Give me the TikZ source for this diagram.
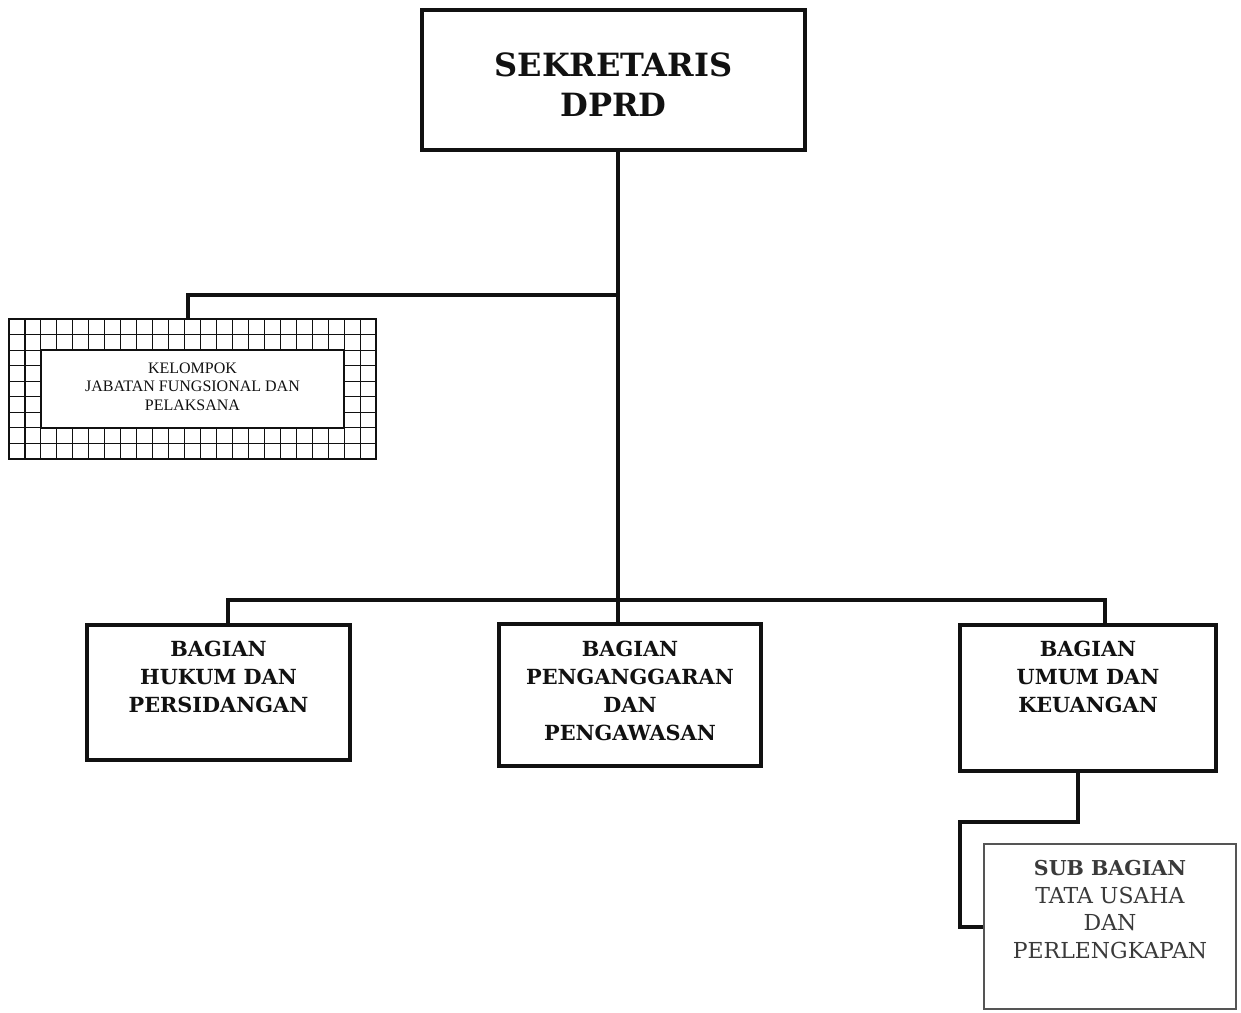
\documentclass[tikz,border=0pt]{standalone}
\usepackage{fontspec}
\setmainfont{DejaVu Serif}
\newfontfamily\timesfont{Liberation Serif}
\usetikzlibrary{positioning}
\definecolor{ink}{HTML}{111111}
\definecolor{greyline}{HTML}{555555}
\definecolor{greytext}{HTML}{3A3A3A}
\tikzset{
    unitbox/.style={draw=ink,line width=3.5pt,fill=white,inner sep=0pt},
    unittext/.style={anchor=north,inner sep=0pt,align=center,text=ink,
      font=\bfseries\fontsize{20.8}{28}\selectfont},
    headtext/.style={unittext,font=\bfseries\fontsize{32}{40}\selectfont},
    gridbox/.style={draw=ink,line width=1.6pt,fill=white,inner sep=0pt},
    gridline/.style={draw=ink,line width=1.1pt},
    kelompoktext/.style={anchor=north,inner sep=0pt,align=center,text=ink,
      font=\timesfont\fontsize{16}{18.5}\selectfont},
    subbox/.style={draw=greyline,line width=1.5pt,fill=white,inner sep=0pt},
    subtext/.style={anchor=north,inner sep=0pt,align=center,text=greytext,
      font=\fontsize{22}{27.5}\selectfont},
    conn/.style={draw=ink,line width=4pt}
}
\begin{document}
\begin{tikzpicture}[x=1pt,y=-1pt]
  \useasboundingbox[fill=white] (0,0) rectangle (1241,1012);
  % head
  \node[unitbox,minimum width=383,minimum height=140] (sek) at (613.5,80) {};
  \node[headtext] (sektext) at ([yshift=-44pt]sek.north) {SEKRETARIS\\DPRD};
  % kelompok jabatan fungsional
  \node[gridbox,minimum width=367,minimum height=140] (kel) at (192.5,389) {};
  \foreach \i in {1,...,22}
    \draw[gridline] (9+\i*15.96,319) -- ++(0,140);
  \foreach \j in {1,...,8}
    \draw[gridline] (9,319+\j*15.56) -- ++(367,0);
  \node[gridbox,minimum width=303,minimum height=78] (kelin) at (192.5,389) {};
  \node[kelompoktext] (keltext) at ([yshift=-13pt]kelin.north)
    {KELOMPOK\\JABATAN FUNGSIONAL DAN\\PELAKSANA};
  % bagian
  \node[unitbox,minimum width=263,minimum height=135] (hukum) at (218.5,692.5) {};
  \node[unittext] (hukumtext) at ([yshift=-18pt]hukum.north)
    {BAGIAN\\HUKUM DAN\\PERSIDANGAN};
  \node[unitbox,minimum width=262,minimum height=142] (angg) at (630,695) {};
  \node[unittext] (anggtext) at ([yshift=-19pt]angg.north)
    {BAGIAN\\PENGANGGARAN\\DAN\\PENGAWASAN};
  \node[unitbox,minimum width=256,minimum height=146] (umum) at (1088,698) {};
  \node[unittext] (umumtext) at ([yshift=-18pt]umum.north)
    {BAGIAN\\UMUM DAN\\KEUANGAN};
  % sub bagian
  \node[subbox,minimum width=252,minimum height=165] (sub) at (1110,926.5) {};
  \node[subtext] (subtext) at ([yshift=-17pt]sub.north)
    {{\bfseries\fontsize{20.5}{27.5}\selectfont SUB BAGIAN}\\TATA USAHA\\DAN\\PERLENGKAPAN};
  % connectors
  \coordinate (kelbar) at (618,295);
  \coordinate (bagbar) at (618,600);
  \coordinate (subbend) at (960,822);
  \draw[conn] ([xshift=4.5]sek.south) -- ([xshift=4.5]sek.south |- angg.north);
  \draw[conn] ([xshift=-4.5]kel.north) |- (kelbar);
  \draw[conn] ([xshift=9.5]hukum.north) |- (bagbar) -| ([xshift=17]umum.north);
  \draw[conn] ([xshift=-10]umum.south) |- (subbend) |- (sub.west);
\end{tikzpicture}
\end{document}
